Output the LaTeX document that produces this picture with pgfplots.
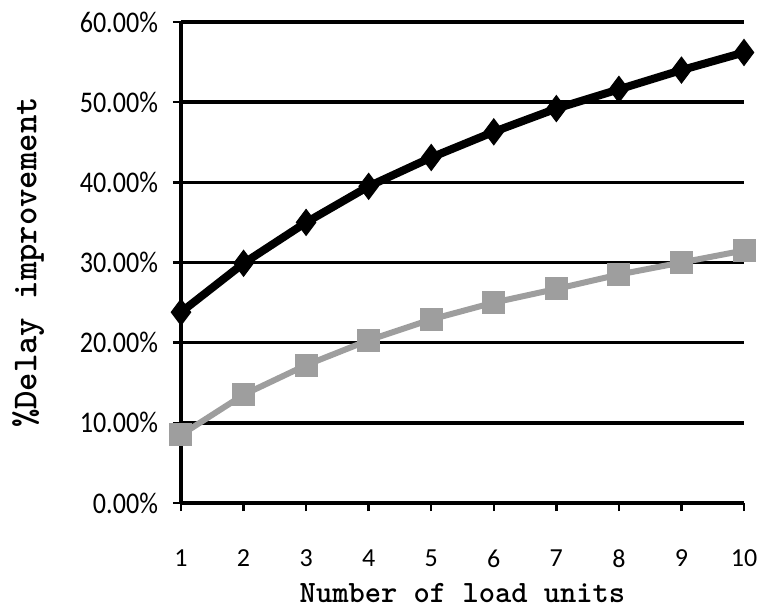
\documentclass[border=0pt]{standalone}
\usepackage{fontspec}
\setmainfont{Carlito}
\usepackage{pgfplots}
\pgfplotsset{compat=1.18}
\definecolor{sqgray}{gray}{0.62}
\newcommand{\yl}[1]{\scalebox{0.87}[1]{#1}}
\begin{document}
\begin{tikzpicture}
\begin{axis}[
    scale only axis,
    width=281.5pt, height=240.5pt,
    xmin=1, xmax=10, ymin=0, ymax=60,
    clip=false,
    axis lines=left,
    axis line style={-, line width=1.6pt},
    xtick={1,...,10},
    xticklabels={1,2,3,4,5,6,7,8,9,10},
    ytick={0,10,...,60},
    yticklabels={\yl{0.00\%},\yl{10.00\%},\yl{20.00\%},\yl{30.00\%},\yl{40.00\%},\yl{50.00\%},\yl{60.00\%}},
    tick align=outside,
    major tick length=4pt,
    tick style={black, line width=1.2pt},
    ymajorgrids,
    grid style={black, line width=1.8pt},
    xticklabel style={font=\fontsize{13}{15}\selectfont, yshift=-16pt},
    yticklabel style={font=\fontsize{15}{18}\selectfont, xshift=-4pt},
    xlabel={\ttfamily\bfseries\fontsize{15.5}{18}\selectfont Number of load units},
    ylabel={\ttfamily\bfseries\fontsize{17.5}{20}\selectfont \%Delay improvement},
    xlabel style={yshift=-1pt},
    ylabel style={yshift=11pt},
]
\addplot[black, line width=4pt, mark=diamond*, mark size=6.5pt,
         mark options={solid, line width=0.5pt}]
  coordinates {
    (1,23.8) (2,29.9) (3,35.0) (4,39.5) (5,43.1)
    (6,46.3) (7,49.2) (8,51.6) (9,54.0) (10,56.2)
  };
\addplot[sqgray, line width=3pt, mark=square*, mark size=5.5pt,
         mark options={solid, line width=0.5pt}]
  coordinates {
    (1,8.5) (2,13.5) (3,17.2) (4,20.3) (5,22.9)
    (6,25.0) (7,26.7) (8,28.5) (9,30.0) (10,31.5)
  };
\end{axis}
\pgfresetboundingbox
\path[use as bounding box] ([xshift=-90.5pt,yshift=-53.5pt]current axis.south west)
  rectangle ([xshift=288.5pt,yshift=251.5pt]current axis.south west);
\end{tikzpicture}
\end{document}
